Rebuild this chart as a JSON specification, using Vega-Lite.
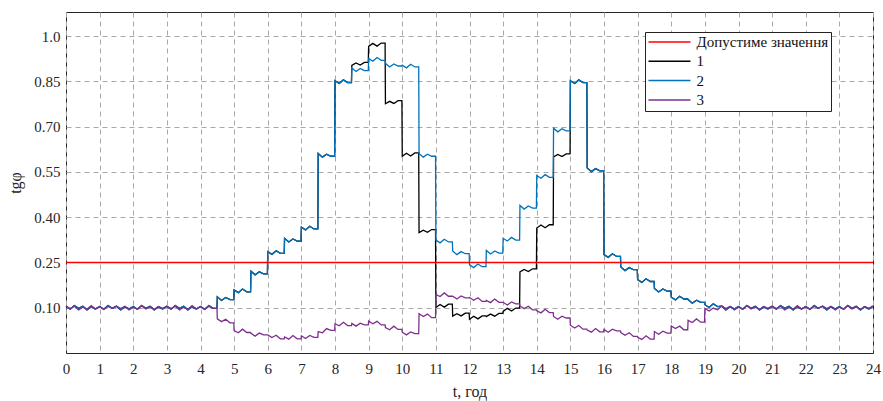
{
  "$schema": "https://vega.github.io/schema/vega-lite/v6.json",
  "width": 807,
  "height": 341,
  "autosize": {"type": "none"},
  "padding": {"left": 66, "top": 12, "right": 10, "bottom": 48},
  "background": "white",
  "config": {
    "font": "Liberation Serif",
    "view": {"stroke": "#262626", "strokeWidth": 1},
    "axis": {
      "labelFont": "Liberation Serif",
      "labelFontSize": 15,
      "labelColor": "#262626",
      "titleFont": "Liberation Serif",
      "titleFontSize": 16,
      "titleFontWeight": "normal",
      "titleColor": "#262626",
      "grid": true,
      "gridDash": [5, 4],
      "gridColor": "#a8a8a8",
      "gridWidth": 1,
      "ticks": false,
      "domain": false
    },
    "legend": {
      "labelFont": "Liberation Serif"
    }
  },
  "datasets": {
    "series": [
      {"t":0,"1":0.104,"2":0.104,"3":0.106},
      {"t":0.125,"1":0.095,"2":0.095,"3":0.097},
      {"t":0.25,"1":0.107,"2":0.107,"3":0.105},
      {"t":0.375,"1":0.098,"2":0.098,"3":0.093},
      {"t":0.5,"1":0.105,"2":0.105,"3":0.102},
      {"t":0.625,"1":0.093,"2":0.093,"3":0.095},
      {"t":0.75,"1":0.103,"2":0.103,"3":0.107},
      {"t":0.875,"1":0.096,"2":0.096,"3":0.096},
      {"t":1,"1":0.104,"2":0.104,"3":0.103},
      {"t":1.125,"1":0.095,"2":0.095,"3":0.094},
      {"t":1.25,"1":0.107,"2":0.107,"3":0.104},
      {"t":1.375,"1":0.098,"2":0.098,"3":0.098},
      {"t":1.5,"1":0.105,"2":0.105,"3":0.106},
      {"t":1.625,"1":0.093,"2":0.093,"3":0.097},
      {"t":1.75,"1":0.103,"2":0.103,"3":0.105},
      {"t":1.875,"1":0.096,"2":0.096,"3":0.093},
      {"t":2,"1":0.104,"2":0.104,"3":0.102},
      {"t":2.125,"1":0.095,"2":0.095,"3":0.095},
      {"t":2.25,"1":0.107,"2":0.107,"3":0.107},
      {"t":2.375,"1":0.098,"2":0.098,"3":0.096},
      {"t":2.5,"1":0.105,"2":0.105,"3":0.103},
      {"t":2.625,"1":0.093,"2":0.093,"3":0.094},
      {"t":2.75,"1":0.103,"2":0.103,"3":0.104},
      {"t":2.875,"1":0.096,"2":0.096,"3":0.098},
      {"t":3,"1":0.104,"2":0.104,"3":0.106},
      {"t":3.125,"1":0.095,"2":0.095,"3":0.097},
      {"t":3.25,"1":0.107,"2":0.107,"3":0.105},
      {"t":3.375,"1":0.098,"2":0.098,"3":0.093},
      {"t":3.5,"1":0.105,"2":0.105,"3":0.102},
      {"t":3.625,"1":0.093,"2":0.093,"3":0.095},
      {"t":3.75,"1":0.103,"2":0.103,"3":0.107},
      {"t":3.875,"1":0.096,"2":0.096,"3":0.096},
      {"t":4,"1":0.104,"2":0.104,"3":0.103},
      {"t":4.125,"1":0.095,"2":0.095,"3":0.094},
      {"t":4.25,"1":0.107,"2":0.107,"3":0.104},
      {"t":4.375,"1":0.098,"2":0.098,"3":0.098},
      {"t":4.49,"1":0.098,"2":0.098,"3":0.098},
      {"t":4.5,"1":0.136,"2":0.136,"3":0.063},
      {"t":4.625,"1":0.124,"2":0.124,"3":0.054},
      {"t":4.75,"1":0.134,"2":0.134,"3":0.062},
      {"t":4.875,"1":0.127,"2":0.127,"3":0.050},
      {"t":4.99,"1":0.127,"2":0.127,"3":0.050},
      {"t":5,"1":0.159,"2":0.159,"3":0.024},
      {"t":5.125,"1":0.150,"2":0.150,"3":0.017},
      {"t":5.25,"1":0.162,"2":0.162,"3":0.029},
      {"t":5.375,"1":0.153,"2":0.153,"3":0.018},
      {"t":5.49,"1":0.153,"2":0.153,"3":0.018},
      {"t":5.5,"1":0.221,"2":0.221,"3":0.015},
      {"t":5.625,"1":0.209,"2":0.209,"3":0.006},
      {"t":5.75,"1":0.219,"2":0.219,"3":0.016},
      {"t":5.875,"1":0.212,"2":0.212,"3":0.010},
      {"t":5.99,"1":0.212,"2":0.212,"3":0.010},
      {"t":6,"1":0.286,"2":0.286,"3":0.010},
      {"t":6.125,"1":0.277,"2":0.277,"3":0.001},
      {"t":6.25,"1":0.289,"2":0.289,"3":0.009},
      {"t":6.375,"1":0.280,"2":0.280,"3":-0.003},
      {"t":6.49,"1":0.280,"2":0.280,"3":-0.003},
      {"t":6.5,"1":0.330,"2":0.330,"3":0.003},
      {"t":6.625,"1":0.318,"2":0.318,"3":-0.004},
      {"t":6.75,"1":0.328,"2":0.328,"3":0.008},
      {"t":6.875,"1":0.321,"2":0.321,"3":-0.003},
      {"t":6.99,"1":0.321,"2":0.321,"3":-0.003},
      {"t":7,"1":0.367,"2":0.367,"3":0.007},
      {"t":7.125,"1":0.358,"2":0.358,"3":-0.002},
      {"t":7.25,"1":0.370,"2":0.370,"3":0.008},
      {"t":7.375,"1":0.361,"2":0.361,"3":0.002},
      {"t":7.49,"1":0.361,"2":0.361,"3":0.002},
      {"t":7.5,"1":0.611,"2":0.611,"3":0.021},
      {"t":7.625,"1":0.599,"2":0.599,"3":0.017},
      {"t":7.75,"1":0.609,"2":0.609,"3":0.031},
      {"t":7.875,"1":0.602,"2":0.602,"3":0.025},
      {"t":7.99,"1":0.602,"2":0.602,"3":0.025},
      {"t":8,"1":0.852,"2":0.852,"3":0.047},
      {"t":8.125,"1":0.843,"2":0.843,"3":0.040},
      {"t":8.25,"1":0.855,"2":0.855,"3":0.052},
      {"t":8.375,"1":0.846,"2":0.846,"3":0.041},
      {"t":8.49,"1":0.846,"2":0.846,"3":0.041},
      {"t":8.5,"1":0.903,"2":0.895,"3":0.048},
      {"t":8.625,"1":0.911,"2":0.883,"3":0.039},
      {"t":8.75,"1":0.904,"2":0.893,"3":0.049},
      {"t":8.875,"1":0.913,"2":0.886,"3":0.043},
      {"t":8.99,"1":0.913,"2":0.886,"3":0.043},
      {"t":9,"1":0.966,"2":0.926,"3":0.056},
      {"t":9.125,"1":0.976,"2":0.917,"3":0.047},
      {"t":9.25,"1":0.967,"2":0.929,"3":0.055},
      {"t":9.375,"1":0.977,"2":0.920,"3":0.043},
      {"t":9.49,"1":0.977,"2":0.920,"3":0.043},
      {"t":9.5,"1":0.776,"2":0.910,"3":0.034},
      {"t":9.625,"1":0.784,"2":0.898,"3":0.027},
      {"t":9.75,"1":0.777,"2":0.908,"3":0.039},
      {"t":9.875,"1":0.786,"2":0.901,"3":0.028},
      {"t":9.99,"1":0.786,"2":0.901,"3":0.028},
      {"t":10,"1":0.602,"2":0.904,"3":0.019},
      {"t":10.125,"1":0.612,"2":0.895,"3":0.010},
      {"t":10.25,"1":0.603,"2":0.907,"3":0.020},
      {"t":10.375,"1":0.613,"2":0.898,"3":0.014},
      {"t":10.49,"1":0.613,"2":0.898,"3":0.014},
      {"t":10.5,"1":0.349,"2":0.611,"3":0.080},
      {"t":10.625,"1":0.357,"2":0.599,"3":0.071},
      {"t":10.75,"1":0.350,"2":0.609,"3":0.079},
      {"t":10.875,"1":0.359,"2":0.602,"3":0.067},
      {"t":10.99,"1":0.359,"2":0.602,"3":0.067},
      {"t":11,"1":0.101,"2":0.324,"3":0.144},
      {"t":11.125,"1":0.111,"2":0.315,"3":0.137},
      {"t":11.25,"1":0.102,"2":0.327,"3":0.149},
      {"t":11.375,"1":0.112,"2":0.318,"3":0.138},
      {"t":11.49,"1":0.112,"2":0.318,"3":0.138},
      {"t":11.5,"1":0.072,"2":0.288,"3":0.138},
      {"t":11.625,"1":0.080,"2":0.276,"3":0.129},
      {"t":11.75,"1":0.073,"2":0.286,"3":0.139},
      {"t":11.875,"1":0.082,"2":0.279,"3":0.133},
      {"t":11.99,"1":0.082,"2":0.279,"3":0.133},
      {"t":12,"1":0.062,"2":0.242,"3":0.134},
      {"t":12.125,"1":0.072,"2":0.233,"3":0.125},
      {"t":12.25,"1":0.063,"2":0.245,"3":0.133},
      {"t":12.375,"1":0.073,"2":0.236,"3":0.121},
      {"t":12.49,"1":0.073,"2":0.236,"3":0.121},
      {"t":12.5,"1":0.071,"2":0.290,"3":0.124},
      {"t":12.625,"1":0.079,"2":0.278,"3":0.117},
      {"t":12.75,"1":0.072,"2":0.288,"3":0.129},
      {"t":12.875,"1":0.081,"2":0.281,"3":0.118},
      {"t":12.99,"1":0.081,"2":0.281,"3":0.118},
      {"t":13,"1":0.088,"2":0.330,"3":0.118},
      {"t":13.125,"1":0.098,"2":0.321,"3":0.109},
      {"t":13.25,"1":0.089,"2":0.333,"3":0.119},
      {"t":13.375,"1":0.099,"2":0.324,"3":0.113},
      {"t":13.49,"1":0.099,"2":0.324,"3":0.113},
      {"t":13.5,"1":0.219,"2":0.439,"3":0.106},
      {"t":13.625,"1":0.227,"2":0.427,"3":0.097},
      {"t":13.75,"1":0.220,"2":0.437,"3":0.105},
      {"t":13.875,"1":0.229,"2":0.430,"3":0.093},
      {"t":13.99,"1":0.229,"2":0.430,"3":0.093},
      {"t":14,"1":0.364,"2":0.538,"3":0.090},
      {"t":14.125,"1":0.374,"2":0.529,"3":0.083},
      {"t":14.25,"1":0.365,"2":0.541,"3":0.095},
      {"t":14.375,"1":0.375,"2":0.532,"3":0.084},
      {"t":14.49,"1":0.375,"2":0.532,"3":0.084},
      {"t":14.5,"1":0.600,"2":0.695,"3":0.071},
      {"t":14.625,"1":0.608,"2":0.683,"3":0.062},
      {"t":14.75,"1":0.601,"2":0.693,"3":0.072},
      {"t":14.875,"1":0.610,"2":0.686,"3":0.066},
      {"t":14.99,"1":0.610,"2":0.686,"3":0.066},
      {"t":15,"1":0.852,"2":0.852,"3":0.042},
      {"t":15.125,"1":0.843,"2":0.843,"3":0.033},
      {"t":15.25,"1":0.855,"2":0.855,"3":0.041},
      {"t":15.375,"1":0.846,"2":0.846,"3":0.029},
      {"t":15.49,"1":0.846,"2":0.846,"3":0.029},
      {"t":15.5,"1":0.563,"2":0.563,"3":0.026},
      {"t":15.625,"1":0.551,"2":0.551,"3":0.019},
      {"t":15.75,"1":0.561,"2":0.561,"3":0.031},
      {"t":15.875,"1":0.554,"2":0.554,"3":0.020},
      {"t":15.99,"1":0.554,"2":0.554,"3":0.020},
      {"t":16,"1":0.276,"2":0.276,"3":0.028},
      {"t":16.125,"1":0.267,"2":0.267,"3":0.019},
      {"t":16.25,"1":0.279,"2":0.279,"3":0.029},
      {"t":16.375,"1":0.270,"2":0.270,"3":0.023},
      {"t":16.49,"1":0.270,"2":0.270,"3":0.023},
      {"t":16.5,"1":0.235,"2":0.235,"3":0.018},
      {"t":16.625,"1":0.223,"2":0.223,"3":0.009},
      {"t":16.75,"1":0.233,"2":0.233,"3":0.017},
      {"t":16.875,"1":0.226,"2":0.226,"3":0.005},
      {"t":16.99,"1":0.226,"2":0.226,"3":0.005},
      {"t":17,"1":0.193,"2":0.193,"3":0.002},
      {"t":17.125,"1":0.184,"2":0.184,"3":-0.005},
      {"t":17.25,"1":0.196,"2":0.196,"3":0.007},
      {"t":17.375,"1":0.187,"2":0.187,"3":-0.004},
      {"t":17.49,"1":0.187,"2":0.187,"3":-0.004},
      {"t":17.5,"1":0.164,"2":0.164,"3":0.021},
      {"t":17.625,"1":0.152,"2":0.152,"3":0.012},
      {"t":17.75,"1":0.162,"2":0.162,"3":0.022},
      {"t":17.875,"1":0.155,"2":0.155,"3":0.016},
      {"t":17.99,"1":0.155,"2":0.155,"3":0.016},
      {"t":18,"1":0.135,"2":0.135,"3":0.040},
      {"t":18.125,"1":0.126,"2":0.126,"3":0.031},
      {"t":18.25,"1":0.138,"2":0.138,"3":0.039},
      {"t":18.375,"1":0.129,"2":0.129,"3":0.027},
      {"t":18.49,"1":0.129,"2":0.129,"3":0.027},
      {"t":18.5,"1":0.127,"2":0.127,"3":0.058},
      {"t":18.625,"1":0.115,"2":0.115,"3":0.051},
      {"t":18.75,"1":0.125,"2":0.125,"3":0.063},
      {"t":18.875,"1":0.118,"2":0.118,"3":0.052},
      {"t":18.99,"1":0.118,"2":0.118,"3":0.052},
      {"t":19,"1":0.110,"2":0.110,"3":0.098},
      {"t":19.125,"1":0.101,"2":0.101,"3":0.089},
      {"t":19.25,"1":0.113,"2":0.113,"3":0.099},
      {"t":19.375,"1":0.104,"2":0.104,"3":0.093},
      {"t":19.5,"1":0.105,"2":0.105,"3":0.106},
      {"t":19.625,"1":0.093,"2":0.093,"3":0.097},
      {"t":19.75,"1":0.103,"2":0.103,"3":0.105},
      {"t":19.875,"1":0.096,"2":0.096,"3":0.093},
      {"t":20,"1":0.104,"2":0.104,"3":0.102},
      {"t":20.125,"1":0.095,"2":0.095,"3":0.095},
      {"t":20.25,"1":0.107,"2":0.107,"3":0.107},
      {"t":20.375,"1":0.098,"2":0.098,"3":0.096},
      {"t":20.5,"1":0.105,"2":0.105,"3":0.103},
      {"t":20.625,"1":0.093,"2":0.093,"3":0.094},
      {"t":20.75,"1":0.103,"2":0.103,"3":0.104},
      {"t":20.875,"1":0.096,"2":0.096,"3":0.098},
      {"t":21,"1":0.104,"2":0.104,"3":0.106},
      {"t":21.125,"1":0.095,"2":0.095,"3":0.097},
      {"t":21.25,"1":0.107,"2":0.107,"3":0.105},
      {"t":21.375,"1":0.098,"2":0.098,"3":0.093},
      {"t":21.5,"1":0.105,"2":0.105,"3":0.102},
      {"t":21.625,"1":0.093,"2":0.093,"3":0.095},
      {"t":21.75,"1":0.103,"2":0.103,"3":0.107},
      {"t":21.875,"1":0.096,"2":0.096,"3":0.096},
      {"t":22,"1":0.104,"2":0.104,"3":0.103},
      {"t":22.125,"1":0.095,"2":0.095,"3":0.094},
      {"t":22.25,"1":0.107,"2":0.107,"3":0.104},
      {"t":22.375,"1":0.098,"2":0.098,"3":0.098},
      {"t":22.5,"1":0.105,"2":0.105,"3":0.106},
      {"t":22.625,"1":0.093,"2":0.093,"3":0.097},
      {"t":22.75,"1":0.103,"2":0.103,"3":0.105},
      {"t":22.875,"1":0.096,"2":0.096,"3":0.093},
      {"t":23,"1":0.104,"2":0.104,"3":0.102},
      {"t":23.125,"1":0.095,"2":0.095,"3":0.095},
      {"t":23.25,"1":0.107,"2":0.107,"3":0.107},
      {"t":23.375,"1":0.098,"2":0.098,"3":0.096},
      {"t":23.5,"1":0.105,"2":0.105,"3":0.103},
      {"t":23.625,"1":0.093,"2":0.093,"3":0.094},
      {"t":23.75,"1":0.103,"2":0.103,"3":0.104},
      {"t":23.875,"1":0.096,"2":0.096,"3":0.098},
      {"t":24,"1":0.104,"2":0.104,"3":0.106}
    ],
    "limit": [
      {"t": 0, "v": 0.25, "key": "Допустиме значення"},
      {"t": 24, "v": 0.25, "key": "Допустиме значення"}
    ]
  },
  "encoding": {
    "x": {
      "field": "t",
      "type": "quantitative",
      "scale": {"domain": [0, 24], "nice": false},
      "axis": {
        "values": [0,1,2,3,4,5,6,7,8,9,10,11,12,13,14,15,16,17,18,19,20,21,22,23,24],
        "title": "t, год",
        "labelPadding": 8,
        "titlePadding": 7,
        "labelFlush": false
      }
    },
    "y": {
      "field": "v",
      "type": "quantitative",
      "scale": {"domain": [-0.05, 1.08], "nice": false, "zero": false},
      "axis": {
        "values": [0.1, 0.25, 0.4, 0.55, 0.7, 0.85, 1.0],
        "labelExpr": "datum.value > 0.99 ? '1.0' : format(datum.value, '.2f')",
        "title": "tgφ",
        "labelPadding": 6,
        "titlePadding": 10
      }
    },
    "color": {
      "field": "key",
      "type": "nominal",
      "scale": {
        "domain": ["Допустиме значення", "1", "2", "3"],
        "range": ["#ff0000", "#000000", "#0072bd", "#7e2f8e"]
      },
      "legend": {
        "orient": "none",
        "legendX": 579,
        "legendY": 20,
        "title": null,
        "symbolType": "stroke",
        "symbolSize": 1764,
        "symbolStrokeWidth": 1.5,
        "clipHeight": 15,
        "rowPadding": 3.3,
        "labelFont": "Liberation Serif",
        "labelFontSize": 15,
        "labelColor": "#111111",
        "labelLimit": 300,
        "labelOffset": 5,
        "strokeColor": "#222222",
        "fillColor": "white",
        "padding": 2.5
      }
    }
  },
  "layer": [
    {
      "data": {"name": "series"},
      "transform": [{"fold": ["1", "2", "3"], "as": ["key", "v"]}, {"filter": "datum.key === '1'"}],
      "mark": {"type": "line", "strokeWidth": 1.3}
    },
    {
      "data": {"name": "series"},
      "transform": [{"fold": ["1", "2", "3"], "as": ["key", "v"]}, {"filter": "datum.key === '2'"}],
      "mark": {"type": "line", "strokeWidth": 1.3}
    },
    {
      "data": {"name": "series"},
      "transform": [{"fold": ["1", "2", "3"], "as": ["key", "v"]}, {"filter": "datum.key === '3'"}],
      "mark": {"type": "line", "strokeWidth": 1.3}
    },
    {
      "data": {"name": "limit"},
      "mark": {"type": "line", "strokeWidth": 1.6}
    }
  ]
}
